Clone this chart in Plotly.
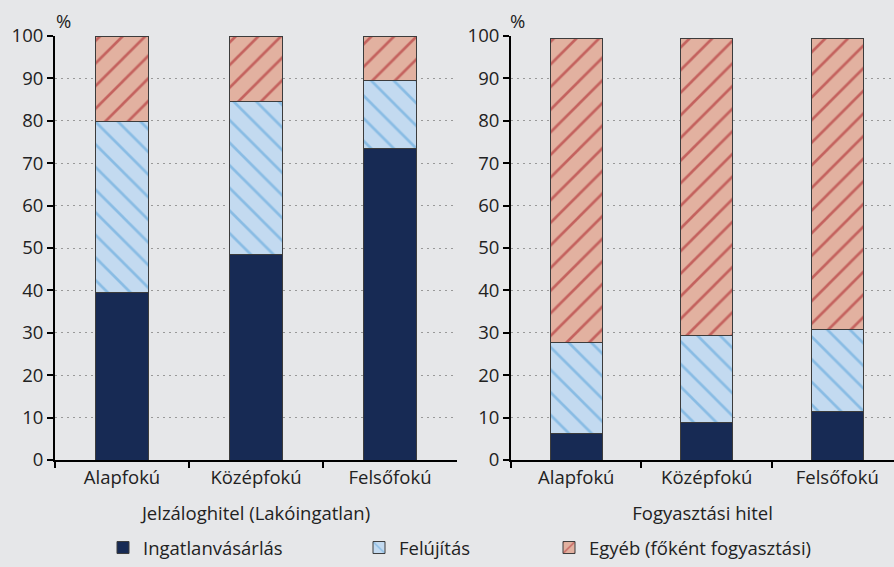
import plotly.graph_objects as go

categories = ["Alapfokú", "Középfokú", "Felsőfokú"]
panel_titles = ["Jelzáloghitel (Lakóingatlan)", "Fogyasztási hitel"]
series_names = ["Ingatlanvásárlás", "Felújítás", "Egyéb (főként fogyasztási)"]

mortgage_ingatlan = [39.5, 48.5, 73.4]
mortgage_felujitas = [40.3, 36.0, 16.0]
mortgage_egyeb = [20.2, 15.5, 10.6]

consumer_ingatlan = [6.3, 8.9, 11.5]
consumer_felujitas = [21.5, 20.5, 19.3]
consumer_egyeb = [71.6, 70.0, 68.6]

y_ticks = list(range(0, 101, 10))

FONT = "Open Sans"
FS = 18.5
TXT = "#222222"
BG = "#e6e7e9"
NAVY = "#172a54"
BLUE_BG = "#c3daf0"
BLUE_FG = "#4f9dd8"
RED_BG = "#e2b1a0"
RED_FG = "#a5141c"
OUTLINE = "#3c3c3c"

fig = go.Figure()

styles = [
    dict(color=NAVY, line=dict(color=OUTLINE, width=1)),
    dict(color=BLUE_BG, line=dict(color=OUTLINE, width=1),
         pattern=dict(shape="\\", fgcolor=BLUE_FG, bgcolor=BLUE_BG, size=16, solidity=0.17, fillmode="overlay")),
    dict(color=RED_BG, line=dict(color=OUTLINE, width=1),
         pattern=dict(shape="/", fgcolor=RED_FG, bgcolor=RED_BG, size=16, solidity=0.17, fillmode="overlay")),
]
legends = ["legend", "legend2", "legend3"]

panels = [
    ([mortgage_ingatlan, mortgage_felujitas, mortgage_egyeb], "x", "y"),
    ([consumer_ingatlan, consumer_felujitas, consumer_egyeb], "x2", "y2"),
]

for p, (vals, xa, ya) in enumerate(panels):
    for i, v in enumerate(vals):
        fig.add_trace(go.Bar(
            x=categories, y=v, name=series_names[i], marker=styles[i],
            xaxis=xa, yaxis=ya, showlegend=(p == 0), legend=legends[i],
        ))

W, H = 894, 567
axis_common = dict(showline=True, linecolor="black", linewidth=2, ticks="outside",
                   tickcolor="black", tickwidth=2, ticklen=6,
                   tickfont=dict(family=FONT, size=FS, color=TXT))

yax = dict(axis_common, range=[0, 100], tickvals=y_ticks, showgrid=True,
           gridcolor="#999999", griddash="2px,4px", gridwidth=1.4, zeroline=False)
xax = dict(axis_common, tickson="boundaries", showgrid=False, zeroline=False,
           title_font=dict(family=FONT, size=FS, color=TXT), title_standoff=19)

leg_common = dict(orientation="h", y=-0.207, xanchor="left", yanchor="middle",
                  bgcolor="rgba(0,0,0,0)", font=dict(family=FONT, size=FS, color=TXT))

fig.update_layout(
    width=W, height=H,
    paper_bgcolor=BG, plot_bgcolor=BG,
    barmode="stack", bargap=0.6,
    margin=dict(l=0, r=0, t=36, b=106),
    font=dict(family=FONT, size=FS, color=TXT),
    xaxis=dict(xax, domain=[55 / W, 457 / W], anchor="y", range=[-0.5, 2.5],
               title_text=panel_titles[0]),
    yaxis=dict(yax, anchor="x", domain=[0, 1]),
    xaxis2=dict(xax, domain=[511 / W, 1.0], anchor="y2", range=[-0.5, 2.435],
                title_text=panel_titles[1]),
    yaxis2=dict(yax, anchor="x2", domain=[0, 1]),
    legend=dict(leg_common, x=103 / W),
    legend2=dict(leg_common, x=359 / W),
    legend3=dict(leg_common, x=549 / W),
    annotations=[
        dict(text="%", x=54 / W, y=1.0, xref="paper", yref="paper", xanchor="left",
             yanchor="bottom", showarrow=False, yshift=1, font=dict(family=FONT, size=FS, color=TXT)),
        dict(text="%", x=508 / W, y=1.0, xref="paper", yref="paper", xanchor="left",
             yanchor="bottom", showarrow=False, yshift=1, font=dict(family=FONT, size=FS, color=TXT)),
    ],
)

fig.write_html("out.html", config={"displayModeBar": False},
               post_script="document.body.style.margin='0';document.body.style.padding='0';")
